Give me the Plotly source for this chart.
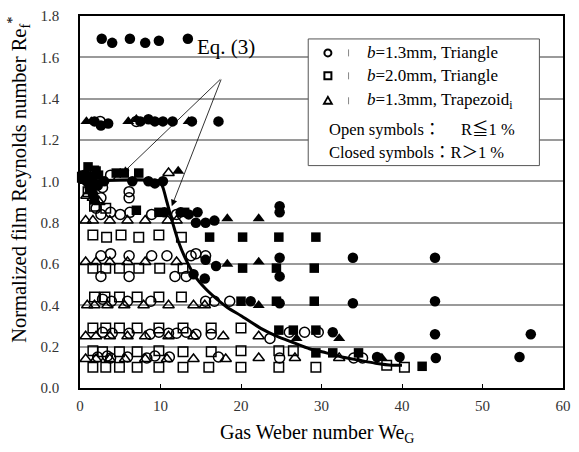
import plotly.graph_objects as go

# ---------------- data ----------------
cc_x = [2.7, 4.0, 6.2, 8.1, 9.8, 13.4,
        1.8, 2.6, 3.5, 7.5, 8.5, 9.3, 10.3, 11.5, 13.9, 17.2,
        0.8, 1.5, 2.2, 3.0, 6.5, 8.5, 9.3, 10.3, 1.6, 1.2,
        10.5, 12.5, 13.5, 14.6, 15.6, 16.7, 14.4, 24.8, 24.8,
        15.6, 16.9, 24.8, 24.8, 33.9, 44.1, 14.1, 15.5,
        21.2, 24.8, 33.9, 44.1,
        31.4, 44.1, 56.0,
        36.9, 39.7, 44.2, 54.6]
cc_y = [1.69, 1.67, 1.69, 1.67, 1.68, 1.69,
        1.29, 1.27, 1.28, 1.29, 1.30, 1.29, 1.29, 1.29, 1.29, 1.29,
        1.00, 1.02, 0.98, 1.00, 1.00, 1.00, 0.99, 1.00, 0.94, 0.97,
        0.85, 0.85, 0.84, 0.85, 0.80, 0.81, 0.80, 0.85, 0.88,
        0.62, 0.59, 0.63, 0.54, 0.63, 0.63, 0.55, 0.53,
        0.42, 0.41, 0.41, 0.42,
        0.27, 0.26, 0.26,
        0.15, 0.15, 0.145, 0.15]

cs_x = [0.5, 1.0, 1.5, 2.0, 4.5, 5.5, 7.3, 1.2, 1.8, 2.3,
        7.0, 9.8, 13.0,
        16.1, 20.2, 24.7, 29.3,
        20.2, 24.4, 29.1,
        20.0, 24.4, 29.1,
        24.7, 26.5, 29.3,
        29.3, 31.4, 34.6,
        42.5]
cs_y = [1.03, 1.07, 1.00, 1.05, 1.04, 1.04, 1.04, 0.96, 0.91, 1.03,
        0.86, 0.85, 0.85,
        0.73, 0.73, 0.73, 0.73,
        0.58, 0.58, 0.58,
        0.42, 0.42, 0.42,
        0.28, 0.28, 0.28,
        0.17, 0.17, 0.17,
        0.105]

ct_x = [0.8, 1.4, 6.0, 7.0, 13.5,
        0.6, 1.3, 12.2,
        18.3, 22.2,
        18.3, 22.2,
        22.2,
        26.9, 32.2,
        37.5]
ct_y = [1.29, 1.29, 1.29, 1.30, 1.29,
        1.00, 1.03, 1.05,
        0.82, 0.82,
        0.60, 0.61,
        0.40,
        0.24, 0.24,
        0.145]

oc_x = [2.5, 7.0,
        0.6, 3.8, 2.8, 6.1, 2.6, 6.1, 1.5,
        2.6, 3.8, 5.0, 6.2, 8.9, 12.0, 2.0,
        2.6, 3.8, 6.1, 8.9, 10.8, 13.8, 14.4, 15.6,
        2.6, 6.1, 11.8, 13.2,
        2.8, 3.9, 5.9, 8.8, 15.6, 16.7, 18.6,
        2.8, 4.0, 6.1, 8.7, 9.8, 11.0, 12.0, 13.2, 14.4, 16.3, 23.6, 26.0, 27.9, 29.6,
        2.2, 3.4, 3.8, 5.9, 8.3, 9.3, 11.1, 17.2, 24.8, 34.0, 35.1]
oc_y = [1.29, 1.29,
        1.03, 1.03, 0.97, 0.95, 0.92, 0.92, 1.04,
        0.84, 0.85, 0.84, 0.85, 0.84, 0.84, 0.87,
        0.64, 0.65, 0.64, 0.64, 0.64, 0.64, 0.65, 0.64,
        0.54, 0.54, 0.54, 0.54,
        0.43, 0.42, 0.42, 0.42, 0.42, 0.42, 0.42,
        0.27, 0.265, 0.265, 0.26, 0.27, 0.265, 0.265, 0.27, 0.26, 0.26, 0.24, 0.27, 0.27, 0.27,
        0.15, 0.155, 0.145, 0.15, 0.145, 0.155, 0.15, 0.15, 0.145, 0.145, 0.145]

os_x = [0.3, 1.0, 1.7,
        1.8, 3.2,
        1.6, 3.3, 5.1, 7.3, 9.8, 12.6,
        1.6, 3.2, 4.9, 7.3, 9.9, 12.8,
        1.8, 3.1, 4.9, 7.1, 9.8, 12.6,
        1.6, 3.2, 4.9, 7.1, 9.8, 12.8, 16.3, 20.0,
        1.6, 2.8, 4.9, 7.1, 9.8, 12.8, 16.3, 20.0, 24.7, 26.5,
        1.6, 3.2, 4.9, 7.1, 9.8, 12.8, 16.0, 20.0, 24.7, 29.3, 38.1, 40.3]
os_y = [1.02, 0.95, 1.05,
        0.88, 0.87,
        0.74, 0.73, 0.74, 0.73, 0.74, 0.73,
        0.58, 0.58, 0.58, 0.58, 0.58, 0.58,
        0.44, 0.44, 0.44, 0.44, 0.44, 0.44,
        0.29, 0.29, 0.29, 0.29, 0.29, 0.29, 0.29, 0.29,
        0.18, 0.175, 0.175, 0.175, 0.18, 0.175, 0.175, 0.18, 0.18, 0.18,
        0.10, 0.10, 0.10, 0.10, 0.10, 0.10, 0.10, 0.10, 0.10, 0.10, 0.11, 0.10]

ot_x = [0.5, 11.0, 0.8, 1.6, 2.4,
        0.7, 1.6, 3.7, 5.9, 8.1, 10.9, 12.0,
        0.7, 2.0, 3.7, 5.9, 8.1, 12.0,
        0.9, 1.8, 3.4, 5.5, 7.9, 11.0, 14.1, 15.5,
        0.7, 2.0, 3.7, 5.9, 8.1, 11.0, 14.1, 17.8, 22.2,
        0.7, 2.0, 3.7, 5.6, 8.1, 10.8, 14.1, 18.1, 22.2, 26.7, 32.2]
ot_y = [1.02, 1.04, 0.93, 0.92, 0.90,
        0.81, 0.81, 0.81, 0.81, 0.81, 0.81, 0.81,
        0.61, 0.61, 0.61, 0.61, 0.61, 0.61,
        0.40, 0.40, 0.40, 0.40, 0.40, 0.40, 0.40, 0.40,
        0.25, 0.25, 0.25, 0.25, 0.25, 0.25, 0.25, 0.25, 0.25,
        0.14, 0.14, 0.14, 0.14, 0.14, 0.14, 0.14, 0.14, 0.145, 0.145, 0.145]

# Eq. (3) curve
eq_x = [0, 9.9, 10.3, 10.8, 11.5, 12.3, 13.3, 14.3, 15.6, 17.0, 18.3, 20.0,
        22.4, 24.5, 26.5, 28.5, 30.6, 32.5, 34.6, 36.7, 38.8, 40.0]
eq_y = [1.0, 1.0, 0.97, 0.90, 0.80, 0.70, 0.61, 0.54, 0.48, 0.43, 0.39, 0.35,
        0.29, 0.25, 0.22, 0.19, 0.17, 0.15, 0.135, 0.12, 0.11, 0.11]

x_ticks = [0, 10, 20, 30, 40, 50, 60]
y_ticks = [0.0, 0.2, 0.4, 0.6, 0.8, 1.0, 1.2, 1.4, 1.6, 1.8]

SERIF = "Liberation Serif, Times New Roman, serif"
CJK = "Liberation Serif, Noto Sans CJK JP, serif"

fig = go.Figure()

def add(xs, ys, sym, size, lw=1.5):
    fig.add_trace(go.Scatter(
        x=xs, y=ys, mode="markers", showlegend=False, cliponaxis=False,
        marker=dict(symbol=sym, size=size, color="black",
                    line=dict(color="black", width=lw))))

add(os_x, os_y, "square-open", 9.5)
add(ot_x, ot_y, "triangle-up-open", 10)
add(oc_x, oc_y, "circle-open", 10)
add(cs_x, cs_y, "square", 9.5, 0)
add(ct_x, ct_y, "triangle-up", 10.5, 0)
add(cc_x, cc_y, "circle", 10.5, 0)

fig.add_trace(go.Scatter(x=eq_x, y=eq_y, mode="lines", showlegend=False,
                         line=dict(color="black", width=3, shape="spline", smoothing=0.6)))

# ---------------- annotations ----------------
ann = []
ann.append(dict(x=18.1, y=1.65, xref="x", yref="y", text="Eq. (3)", showarrow=False,
                xanchor="center", yanchor="middle",
                font=dict(family=SERIF, size=21, color="black")))
for tx, ty in [(5.3, 1.04), (11.4, 0.88)]:
    ann.append(dict(x=tx, y=ty, ax=17.6, ay=1.50, xref="x", yref="y", axref="x", ayref="y",
                    text="", showarrow=True, arrowhead=2, arrowsize=1.6, arrowwidth=0.8,
                    arrowcolor="black"))

# axis titles
ann.append(dict(x=-0.126, y=0.56, xref="paper", yref="paper", textangle=-90,
                xanchor="center", yanchor="middle",
                text="Normalized film Reynolds number Re<sub>f</sub><sup>*</sup>",
                showarrow=False, font=dict(family=SERIF, size=20.5, color="black")))
ann.append(dict(x=0.49, y=-0.121, xref="paper", yref="paper",
                xanchor="center", yanchor="middle",
                text="Gas Weber number We<sub>G</sub>",
                showarrow=False, font=dict(family=SERIF, size=20, color="black")))

# legend box texts
def px(xp):
    return (xp - 80) / 491.0
def py(yp):
    return (388 - yp) / 373.0

rows = [(52, "<i>b</i>=1.3mm, Triangle"), (75, "<i>b</i>=2.0mm, Triangle"),
        (100, "<i>b</i>=1.3mm, Trapezoid<sub>i</sub>")]
for yp, t in rows:
    ann.append(dict(x=px(370), y=py(yp), xref="paper", yref="paper",
                    xanchor="left", yanchor="middle",
                    text=t, showarrow=False, font=dict(family=SERIF, size=17, color="black")))
ann.append(dict(x=px(331), y=py(129), xref="paper", yref="paper", xanchor="left", yanchor="middle",
                text="Open symbols：", showarrow=False, font=dict(family=CJK, size=16.5, color="black")))
ann.append(dict(x=px(465), y=py(129), xref="paper", yref="paper", xanchor="left", yanchor="middle",
                text="R≦1 %", showarrow=False, font=dict(family=CJK, size=16.5, color="black")))
ann.append(dict(x=px(331), y=py(152), xref="paper", yref="paper", xanchor="left", yanchor="middle",
                text="Closed symbols：R＞1 %", showarrow=False,
                font=dict(family=CJK, size=16.5, color="black")))

shapes = []
shapes.append(dict(type="rect", xref="paper", yref="paper", x0=px(312), x1=px(547),
                   y0=py(165), y1=py(38), fillcolor="white", layer="above",
                   line=dict(color="#555555", width=1)))
# legend symbols
sx = px(332)
shapes.append(dict(type="circle", xref="paper", yref="paper", xsizemode="pixel", ysizemode="pixel",
                   xanchor=sx, yanchor=py(52), x0=-3.5, x1=3.5, y0=-3.5, y1=3.5,
                   line=dict(color="black", width=2), layer="above"))
shapes.append(dict(type="rect", xref="paper", yref="paper", xsizemode="pixel", ysizemode="pixel",
                   xanchor=sx, yanchor=py(75), x0=-3.5, x1=3.5, y0=-3.5, y1=3.5,
                   line=dict(color="black", width=2), layer="above"))
shapes.append(dict(type="path", xref="paper", yref="paper", xsizemode="pixel", ysizemode="pixel",
                   xanchor=sx, yanchor=py(100), path="M -4,-3 L 4,-3 L 0,4 Z",
                   line=dict(color="black", width=1.8), layer="above"))
for yp in (52, 75, 100):
    shapes.append(dict(type="line", xref="paper", yref="paper", xsizemode="pixel", ysizemode="pixel",
                       xanchor=px(353), yanchor=py(yp), x0=0, x1=0, y0=-3.5, y1=3.5,
                       line=dict(color="#888888", width=1), layer="above"))

fig.update_layout(
    width=579, height=452,
    margin=dict(l=80, r=8, t=15, b=64),
    paper_bgcolor="white", plot_bgcolor="white",
    annotations=ann, shapes=shapes,
    xaxis=dict(range=[0, 60], tickvals=x_ticks, ticks="inside", ticklen=4,
               tickcolor="black", showline=True, linecolor="black", linewidth=1.5,
               mirror=True, showgrid=False, zeroline=False,
               tickfont=dict(family=SERIF, size=15, color="#333333"),
               ticklabelstandoff=3),
    yaxis=dict(range=[0, 1.8], tickvals=y_ticks, tickformat=".1f", ticks="",
               showline=True, linecolor="black", linewidth=1.5, mirror=True,
               showgrid=True, gridcolor="#9a9a9a", gridwidth=1.5, zeroline=False,
               tickfont=dict(family=SERIF, size=15, color="#333333"),
               ticklabelstandoff=16),
)

fig.write_html("out.html")
